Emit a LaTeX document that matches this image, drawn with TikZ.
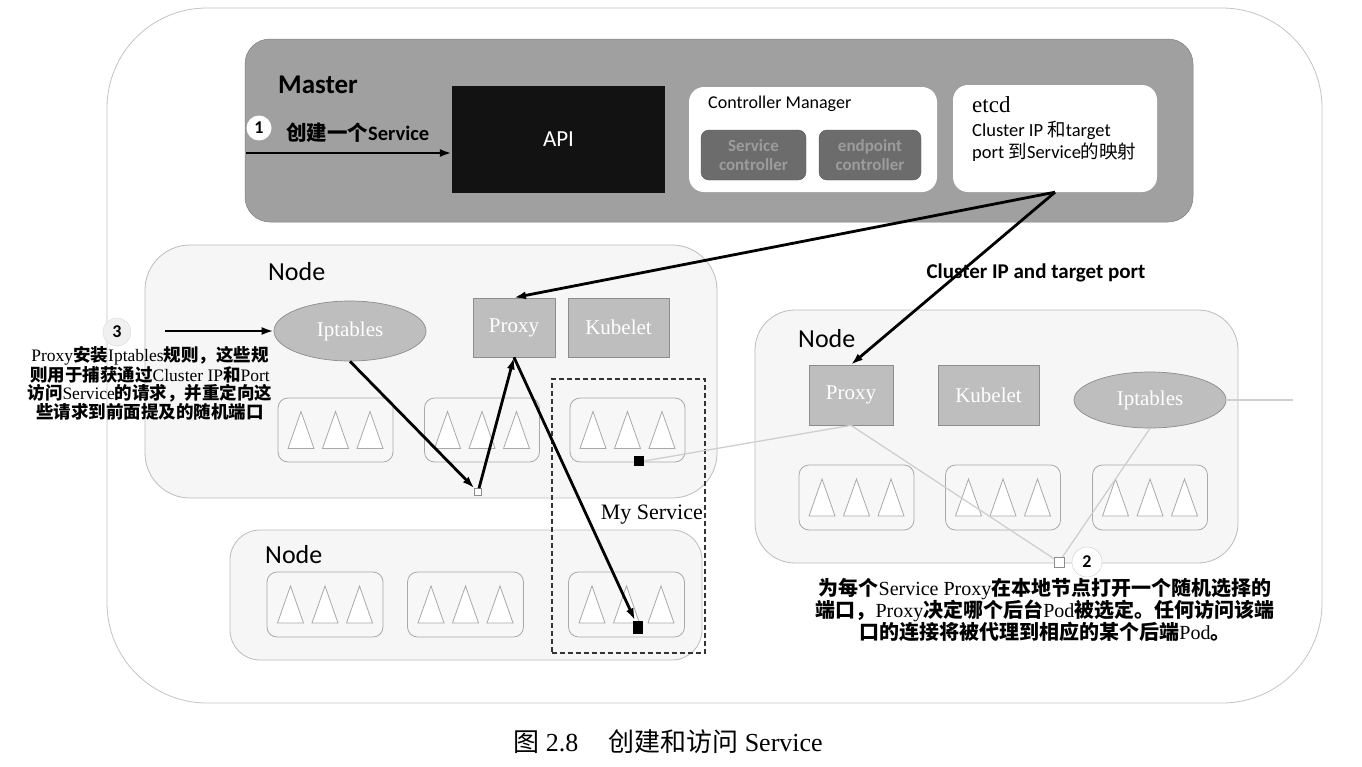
\documentclass[tikz,border=0pt]{standalone}
\usepackage{fontspec}
\setmainfont{Liberation Serif}
\newfontfamily\calib{Carlito}
\newfontfamily\cjk{Noto Sans CJK SC}
\usetikzlibrary{arrows.meta,shapes.geometric}
\newcommand\zh[1]{{\cjk #1}}
\definecolor{outerline}{HTML}{C4C4C4}
\definecolor{mastergray}{HTML}{A0A0A0}
\definecolor{ctrlgray}{HTML}{6C6C6C}
\definecolor{ctrltext}{HTML}{9C9C9C}
\definecolor{nodefill}{HTML}{F6F6F6}
\definecolor{nodeline}{HTML}{BDBDBD}
\definecolor{compfill}{HTML}{BEBEBE}
\definecolor{compline}{HTML}{8C8C8C}
\definecolor{podline}{HTML}{A9A9A9}
\definecolor{lightline}{HTML}{CFCFCF}
\begin{document}
\begin{tikzpicture}[x=1pt,y=-1pt,
  outerbox/.style={draw=outerline,line width=0.8pt,rounded corners=100pt,fill=white,minimum width=1215pt,minimum height=695pt,inner sep=0pt},
  masterbox/.style={fill=mastergray,draw=mastergray!80!black,line width=0.5pt,rounded corners=25pt,minimum width=948pt,minimum height=183pt,inner sep=0pt},
  apibox/.style={fill=black!93,minimum width=213pt,minimum height=107pt,inner sep=0pt,text=white,font=\calib\fontsize{23}{27}\selectfont},
  whitebox/.style={fill=white,rounded corners=15pt,inner sep=0pt},
  ctrlbox/.style={fill=ctrlgray,draw=ctrlgray!80!black,rounded corners=8pt,minimum height=50pt,inner sep=0pt,align=center,text=ctrltext,font=\calib\bfseries\fontsize{17}{19}\selectfont},
  lbl/.style={inner sep=0pt},
  nodebox/.style={fill=nodefill,draw=nodeline,line width=0.8pt,inner sep=0pt},
  comp/.style={fill=compfill,draw=compline,line width=0.7pt,inner sep=0pt,text=white,font=\fontsize{21}{24}\selectfont},
  iptab/.style={ellipse,fill=compfill,draw=compline,line width=0.7pt,inner sep=0pt,text=white,font=\fontsize{21}{24}\selectfont},
  podbox/.style={fill=white!97!black,draw=podline,line width=0.8pt,rounded corners=10pt,minimum width=115pt,minimum height=64pt,inner sep=0pt},
  tri/.style={fill=white,draw=podline,line width=0.8pt},
  tris/.pic={\foreach \dx in {-34.5,0,34.5}{\draw[tri] (\dx-13,18.5) -- (\dx,-18.5) -- (\dx+13,18.5) -- cycle;}},
  bigarrow/.style={line width=2.8pt,-{Latex[length=12pt,width=8pt]}},
  faint/.style={draw=lightline,line width=1.3pt},
  nodetitle/.style={inner sep=0pt,anchor=west,font=\calib\fontsize{26}{30}\selectfont},
  numc/.style={circle,inner sep=0pt,font=\calib\bfseries\fontsize{18}{21}\selectfont}
]
\useasboundingbox (0,0) rectangle (1362,766);
\fill[white] (0,0) rectangle (1362,766);

% outer frame
\node[outerbox] (outer) at (714.5,355.5) {};

% master
\node[masterbox] (master) at (719,130.5) {};
\node[lbl,anchor=west,font=\calib\bfseries\fontsize{27}{32}\selectfont] (mlabel) at (278,85) {Master};
\node[numc,fill=white,minimum size=25pt] (n1) at (259,128) {1};
\node[lbl,anchor=west,font=\calib\bfseries\fontsize{20.5}{24}\selectfont] (create) at (286,133) {\zh{创建一个}Service};
\node[apibox] (api) at (558.5,139.5) {API};
\node[whitebox,minimum width=248pt,minimum height=105pt] (cm) at (813,139.5) {};
\node[lbl,anchor=west,font=\calib\fontsize{18}{21}\selectfont] (cmlabel) at (708,104) {Controller Manager};
\node[ctrlbox,minimum width=105pt] (sc) at (753.5,155) {Service\\controller};
\node[ctrlbox,minimum width=102pt] (ec) at (870,155) {endpoint\\controller};
\node[whitebox,minimum width=204pt,minimum height=107pt] (etcd) at (1055,138.5) {};
\node[lbl,anchor=west,font=\fontsize{23}{27}\selectfont] (etcdlabel) at (972,105) {etcd};
\node[lbl,anchor=west,font=\calib\fontsize{18.5}{21}\selectfont] (etcd1) at (972,130) {Cluster IP \zh{和}target};
\node[lbl,anchor=west,font=\calib\fontsize{18.5}{21}\selectfont] (etcd2) at (972,152) {port \zh{到}Service\zh{的映射}};

% label between
\node[lbl,font=\calib\bfseries\fontsize{21}{25}\selectfont] (cipt) at (1036,273) {Cluster IP and target port};

% node 1 (upper left)
\node[nodebox,rounded corners=45pt,minimum width=572pt,minimum height=253pt] (node1) at (431,371.5) {};
\node[nodetitle] (node1t) at (268,272) {Node};
\node[iptab,minimum width=152pt,minimum height=60pt] (ipt1) at (350,331) {Iptables};
\node[comp,minimum width=82pt,minimum height=59pt] (proxy1) at (514,327.5) {Proxy};
\node[comp,minimum width=101pt,minimum height=59pt] (kub1) at (618.5,327.5) {Kubelet};
\node[podbox] (p11) at (335.5,430) {};
\node[podbox] (p12) at (482,430) {};
\node[podbox] (p13) at (627.5,430) {};
\pic at (p11) {tris};
\pic at (p12) {tris};
\pic at (p13) {tris};

% node 3 (bottom)
\node[nodebox,rounded corners=30pt,minimum width=472pt,minimum height=130pt] (node3) at (466,595) {};
\node[nodetitle] (node3t) at (265,555) {Node};
\node[podbox,minimum width=116pt,minimum height=65pt] (p31) at (325,604.5) {};
\node[podbox,minimum width=116pt,minimum height=65pt] (p32) at (465.5,604.5) {};
\node[podbox,minimum width=116pt,minimum height=65pt] (p33) at (626.5,604.5) {};
\pic at (p31) {tris};
\pic at (p32) {tris};
\pic at (p33) {tris};

% node 2 (right)
\node[nodebox,rounded corners=40pt,minimum width=483pt,minimum height=253pt] (node2) at (996.5,436.5) {};
\node[nodetitle] (node2t) at (798,339) {Node};
\node[comp,minimum width=84pt,minimum height=60pt] (proxy2) at (851,395) {Proxy};
\node[comp,minimum width=101pt,minimum height=60pt] (kub2) at (988.5,395) {Kubelet};
\node[iptab,minimum width=152pt,minimum height=56pt] (ipt2) at (1150,400) {Iptables};
\node[podbox,minimum height=65pt] (p21) at (856.5,497.5) {};
\node[podbox,minimum height=65pt] (p22) at (1003,497.5) {};
\node[podbox,minimum height=65pt] (p23) at (1150,497.5) {};
\pic at (p21) {tris};
\pic at (p22) {tris};
\pic at (p23) {tris};

% My Service dashed box
\node[draw=black!80,dashed,dash pattern=on 5pt off 3pt,line width=1.1pt,minimum width=153pt,minimum height=274pt,inner sep=0pt] (mysvc) at (628.5,516) {};
\node[lbl,anchor=east,font=\fontsize{22}{25}\selectfont] (mysvct) at (703,515) {My Service};

% small squares
\node[fill=black,minimum size=10pt,inner sep=0pt] (bs1) at (639,461) {};
\node[fill=black,minimum width=10pt,minimum height=13pt,inner sep=0pt] (bs2) at (638,627) {};
\node[draw=black!45,fill=white,minimum size=7pt,inner sep=0pt,line width=0.6pt] (j1) at (478,492) {};
\node[draw=black!45,fill=white,minimum size=10pt,inner sep=0pt,line width=0.6pt] (sq2) at (1059,562) {};

% faint connectors
\coordinate (rin) at (1293,400);
\draw[faint] (bs1.east) -- (proxy2.south);
\draw[faint] (proxy2.south) -- (sq2);
\draw[faint] (ipt2.south) -- (sq2);
\draw[faint] (rin) -- (ipt2.east);

% number 2 and its caption
\node[numc,fill=white,draw=black!20,minimum size=30pt] (n2) at (1087,562) {2};
\node[lbl,align=center,font=\fontsize{20}{22}\selectfont] (cap2) at (1045,610) {\zh{\bfseries 为每个}Service Proxy\zh{\bfseries 在本地节点打开一个随机选择的}\\\zh{\bfseries 端口，}Proxy\zh{\bfseries 决定哪个后台}Pod\zh{\bfseries 被选定。任何访问该端}\\\zh{\bfseries 口的连接将被代理到相应的某个后端}Pod\zh{\bfseries 。}};

% number 3 and its caption
\node[numc,fill=black!6,draw=black!14,minimum size=28pt] (n3) at (117,332) {3};
\coordinate (a3s) at (165,331);
\node[lbl,align=center,font=\fontsize{17.5}{18.5}\selectfont] (cap3) at (150,383) {Proxy\zh{\bfseries 安装}Iptables\zh{\bfseries 规则，这些规}\\\zh{\bfseries 则用于捕获通过}Cluster IP\zh{\bfseries 和}Port\\\zh{\bfseries 访问}Service\zh{\bfseries 的请求，并重定向这}\\\zh{\bfseries 些请求到前面提及的随机端口}};

% black arrows
\coordinate (a1s) at (246,153);
\draw[bigarrow] (a1s) -- (api.west |- a1s);
\draw[bigarrow] (a3s) -- (ipt1.west);
\draw[bigarrow] (etcd.south) -- (proxy1.north);
\draw[bigarrow] (etcd.south) -- (proxy2.north);
\draw[bigarrow] (ipt1.south) -- (j1);
\draw[bigarrow] (j1) -- (proxy1.south);
\draw[bigarrow] (proxy1.south) -- (bs2);

% figure caption
\node[lbl,font=\fontsize{26}{30}\selectfont] (figcap) at (668,742) {\zh{图} 2.8\hspace{30pt}\zh{创建和访问} Service};
\end{tikzpicture}
\end{document}
